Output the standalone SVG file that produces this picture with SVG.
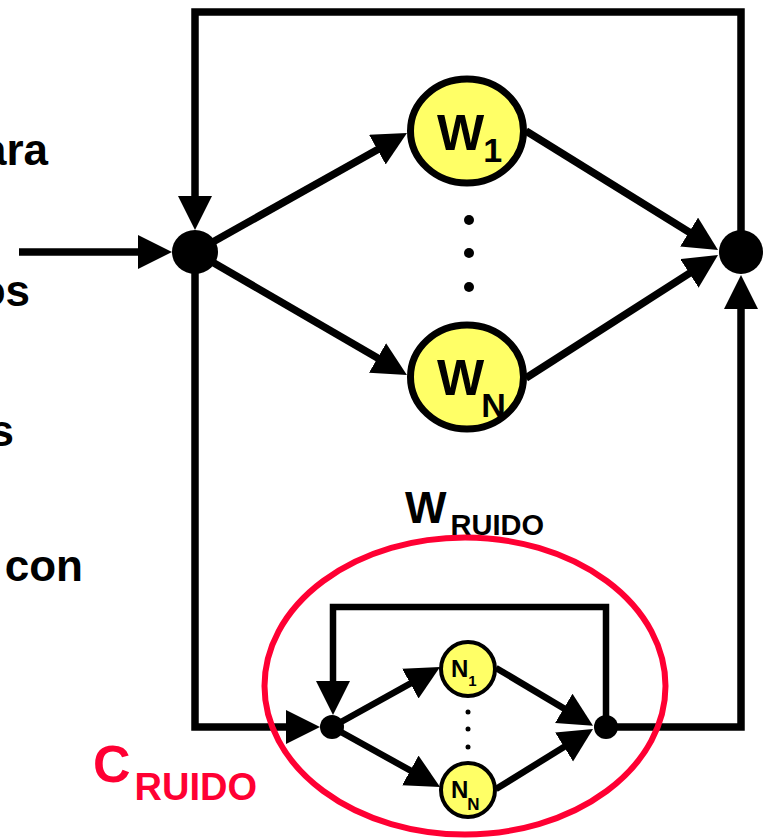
<svg xmlns="http://www.w3.org/2000/svg" width="766" height="840" viewBox="0 0 766 840">
<style>
.t{font-family:"Liberation Sans",Arial,sans-serif;font-weight:bold;fill:#000}
.red{fill:#FF0033}
.ln{fill:none;stroke:#000;stroke-width:7.5;stroke-linejoin:miter}
.lns{fill:none;stroke:#000;stroke-width:6.5;stroke-linejoin:miter}
.big{fill:#FFFF66;stroke:#000;stroke-width:7}
.small{fill:#FFFF66;stroke:#000;stroke-width:4}
.dot{fill:#000}
</style>
<defs>
<marker id="ah" markerUnits="userSpaceOnUse" markerWidth="36" markerHeight="36" refX="24" refY="17" orient="auto">
<path d="M0,0 L34,17 L0,34 z" fill="#000"/>
</marker>
</defs>
<rect width="766" height="840" fill="#fff"/>
<g id="left-text" class="t" font-size="44" text-anchor="end">
<text x="48" y="165">ara</text>
<text x="30" y="306">os</text>
<text x="14" y="446">s</text>
<text x="83" y="581">con</text>
</g>
<g id="connectors">
<path class="ln" d="M19,252 H162" marker-end="url(#ah)"/>
<path class="ln" d="M741,252 V12 H195 V220" marker-end="url(#ah)"/>
<path class="ln" d="M195,252 L398.3,137.9" marker-end="url(#ah)"/>
<path class="ln" d="M195,252 L398.3,370" marker-end="url(#ah)"/>
<path class="ln" d="M526,131 L709.5,244.7" marker-end="url(#ah)"/>
<path class="ln" d="M526,378 L709.6,260.4" marker-end="url(#ah)"/>
<path class="ln" d="M195,252 V727 H310" marker-end="url(#ah)"/>
<path class="ln" d="M606,727 H741 V285" marker-end="url(#ah)"/>
<path class="lns" d="M606,727 V607 H333 V705" marker-end="url(#ah)"/>
<path class="lns" d="M332,727 L431.3,671.9" marker-end="url(#ah)"/>
<path class="lns" d="M332,727 L431.3,782.1" marker-end="url(#ah)"/>
<path class="lns" d="M496,668 L584.4,720.6" marker-end="url(#ah)"/>
<path class="lns" d="M496,789 L584.5,734.3" marker-end="url(#ah)"/>
</g>
<g id="node-in"><ellipse class="dot" cx="195" cy="252" rx="23" ry="22"/></g>
<g id="node-out"><ellipse class="dot" cx="741" cy="252" rx="22" ry="22"/></g>
<g id="node-w1">
<ellipse class="big" cx="467" cy="131" rx="56.5" ry="52"/>
<text class="t" x="437" y="150" font-size="50">W<tspan font-size="34" dx="-1" dy="12">1</tspan></text>
</g>
<g id="dots">
<circle class="dot" cx="469" cy="220" r="5"/>
<circle class="dot" cx="469" cy="253" r="5"/>
<circle class="dot" cx="469" cy="287" r="5"/>
</g>
<g id="node-wn">
<ellipse class="big" cx="467" cy="377" rx="56.5" ry="52"/>
<text class="t" x="437" y="395" font-size="50">W<tspan font-size="34" dx="-3" dy="22">N</tspan></text>
</g>
<g id="label-wruido">
<text class="t" x="405" y="523" font-size="44">W<tspan font-size="29" dx="4" dy="12">RUIDO</tspan></text>
</g>
<g id="c-ruido">
<ellipse cx="465" cy="686" rx="200.5" ry="148.5" fill="none" stroke="#FF0033" stroke-width="6"/>
<text class="t red" x="93" y="782" font-size="52">C<tspan font-size="38" dx="4" dy="18">RUIDO</tspan></text>
</g>
<g id="node-n-in"><circle class="dot" cx="332" cy="727" r="12"/></g>
<g id="node-n-out"><circle class="dot" cx="606" cy="727" r="12"/></g>
<g id="node-n1">
<circle class="small" cx="468" cy="669" r="27"/>
<text class="t" x="451" y="677" font-size="24">N<tspan font-size="15" dy="9">1</tspan></text>
</g>
<g id="dots-small">
<circle class="dot" cx="468" cy="712" r="2.5"/>
<circle class="dot" cx="468" cy="729" r="2.5"/>
<circle class="dot" cx="468" cy="747" r="2.5"/>
</g>
<g id="node-nn">
<circle class="small" cx="468" cy="790" r="27"/>
<text class="t" x="451" y="798" font-size="24">N<tspan font-size="17" dx="-1" dy="12">N</tspan></text>
</g>
</svg>
